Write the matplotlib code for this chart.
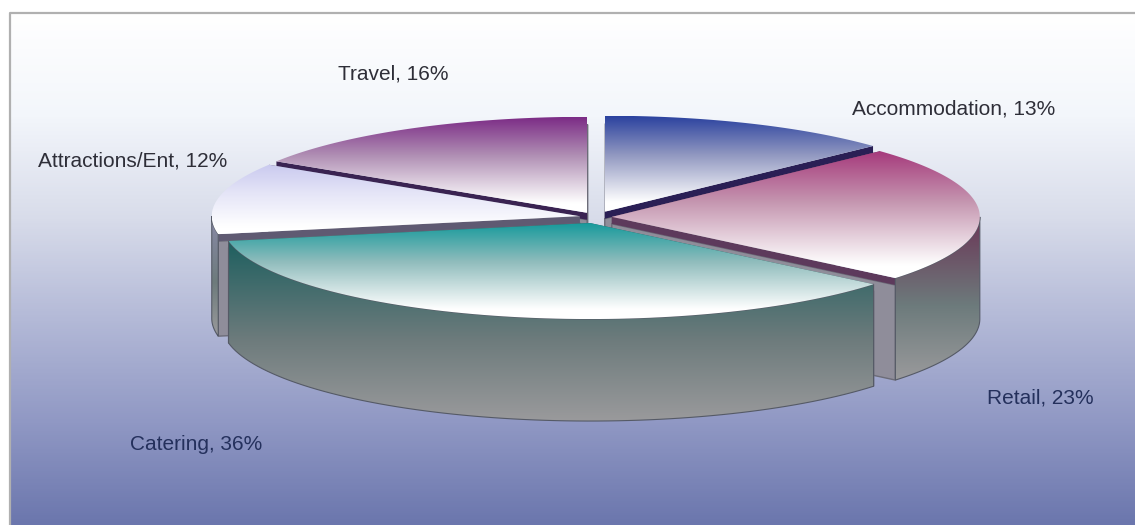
import numpy as np
import matplotlib
matplotlib.use("Agg")
import matplotlib.pyplot as plt
from matplotlib.patches import Polygon
from matplotlib.colors import to_rgb

plt.rcParams["font.family"] = ["Liberation Sans", "DejaVu Sans"]

# shares in pie order, clockwise from 12 o'clock
labels = ["Accommodation", "Retail", "Catering", "Attractions/Ent", "Travel"]
shares = [13, 23, 36, 12, 16]
explode = [0.06, 0.043, 0.065, 0.045, 0.05]

top_colors = ["#2b429f", "#a63a7c", "#179a9c", "#c9c9ef", "#7c2c86"]
top_mid = ["#9097c0", "#c596b0", "#8fbcbc", "#e4e4f7", "#b08fb4"]
wall_colors = ["#444466", "#6b3556", "#1d5f5f", "#8a8aa8", "#553060"]
face_dark = ["#2a1f55", "#5d3a5c", "#2a5a5a", "#5f5a72", "#3a2352"]

label_pos = [(852, 109, "#2e2e38"), (987, 398, "#24305c"), (130, 444, "#24305c"),
             (38, 161, "#2e2e38"), (338, 74, "#2e2e38")]

CX, CY = 596, 217
RX, RY = 368, 96
DEPTH = 102
BAND = 7

fig = plt.figure(figsize=(11.35, 5.25), dpi=100)
ax = fig.add_axes([0, 0, 1, 1])
ax.set_xlim(0, 1135)
ax.set_ylim(525, 0)
ax.axis("off")
ax.set_autoscale_on(False)


def gradient(verts, stops, z):
    # vertical gradient clipped to a polygon, stops are (fraction, colour)
    verts = np.array(verts)
    y0, y1 = verts[:, 1].min(), verts[:, 1].max()
    x0, x1 = verts[:, 0].min(), verts[:, 0].max()
    t = np.linspace(0, 1, 256)
    fr = [s[0] for s in stops]
    rgb = np.array([to_rgb(s[1]) for s in stops])
    img = np.stack([np.interp(t, fr, rgb[:, i]) for i in range(3)], axis=1)[:, None, :]
    im = ax.imshow(img, extent=[x0, x1, y1, y0], aspect="auto", zorder=z)
    clip = Polygon(verts, closed=True, transform=ax.transData)
    im.set_clip_path(clip)


def rim(apex, t0, t1, drop=0):
    th = np.radians(np.linspace(t0, t1, 80))
    return np.column_stack([apex[0] + RX * np.sin(th), apex[1] - RY * np.cos(th) + drop])


# background panel and frame
panel = [(10, 13), (1135, 13), (1135, 525), (10, 525)]
gradient(panel, [(0, "#ffffff"), (0.2, "#f3f6fb"), (0.4, "#d8dcea"), (0.6, "#b3b9d7"),
                 (0.8, "#9098c4"), (1, "#6b76ad")], 1)
ax.plot([10, 10, 1135], [525, 13, 13], color="#b0b0b0", lw=1.6, zorder=2)

edges = np.concatenate([[0], np.cumsum(shares)]) / sum(shares) * 360
order = [4, 0, 3, 1, 2]  # back to front
z = 3
for i in order:
    t0, t1 = edges[i], edges[i + 1]
    mid = np.radians((t0 + t1) / 2)
    apex = (CX + explode[i] * RX * np.sin(mid), CY - explode[i] * RY * np.cos(mid))

    # cut faces, the one further back first so it can't cover the nearer one
    for t in sorted((t0, t1), key=lambda a: -np.cos(np.radians(a))):
        p = rim(apex, t, t)[0]
        ax.add_patch(Polygon([(apex[0], apex[1] + BAND), (p[0], p[1] + BAND),
                              (p[0], p[1] + DEPTH), (apex[0], apex[1] + DEPTH)],
                             fc="#8f8d9a", ec="#6c6c78", lw=1, zorder=z))
        ax.add_patch(Polygon([apex, p, (p[0], p[1] + BAND), (apex[0], apex[1] + BAND)],
                             fc=face_dark[i], ec="none", zorder=z))
        z += 1

    # outer wall, only the part facing the viewer
    w0, w1 = max(t0, 90), min(t1, 270)
    if w0 < w1:
        upper = rim(apex, w0, w1)
        lower = rim(apex, w0, w1, DEPTH)
        wall = np.vstack([upper, lower[::-1]])
        gradient(wall, [(0, wall_colors[i]), (0.55, "#6d7b7c"), (1, "#9a9a9c")], z)
        ax.add_patch(Polygon(wall, fc="none", ec="#555a66", lw=0.8, zorder=z + 1))
        z += 2

    # top surface
    top = np.vstack([[apex], rim(apex, t0, t1)])
    gradient(top, [(0, top_colors[i]), (0.4, top_mid[i]), (0.9, "#ffffff"), (1, "#ffffff")], z)
    z += 1

for lab, share, (x, y, col) in zip(labels, shares, label_pos):
    ax.text(x, y, f"{lab}, {share}%", fontsize=15, color=col, ha="left", va="center",
            zorder=z)

fig.savefig("out.png", dpi=100)
